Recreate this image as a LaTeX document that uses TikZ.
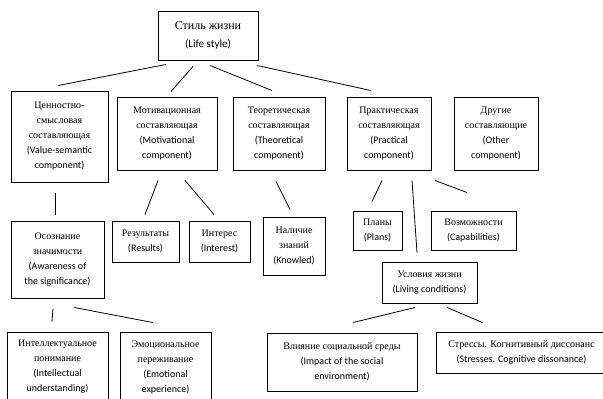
\documentclass[tikz,border=0pt]{standalone}
\usepackage{fontspec}
\setmainfont{Liberation Serif}
\newfontfamily\enfont{Carlito}
\newcommand\E[1]{{\enfont #1}}
\begin{document}
\begin{tikzpicture}[x=1pt,y=-1pt,
  box/.style={draw, line width=0.9pt, align=center, inner sep=0pt,
    font=\fontsize{10}{15}\selectfont},
  link/.style={line width=0.8pt}]
\useasboundingbox (0,0) rectangle (603,399);
\node[box, minimum width=100pt, minimum height=49pt, font=\fontsize{12}{18}\selectfont] (top) at (208,35.5)
  {Стиль жизни\\{\enfont\fontsize{11}{18}\selectfont (Life style)}};
\node[box, minimum width=97pt, minimum height=91pt] (val) at (59.5,136.5)
  {Ценностно-\\смысловая\\составляющая\\\E{(Value-semantic}\\\E{component)}};
\node[box, minimum width=100pt, minimum height=73pt] (mot) at (167,133.5)
  {Мотивационная\\составляющая\\\E{(Motivational}\\\E{component)}};
\node[box, minimum width=92pt, minimum height=73pt] (theo) at (279,133.5)
  {Теоретическая\\составляющая\\\E{(Theoretical}\\\E{component)}};
\node[box, minimum width=84pt, minimum height=73pt] (prac) at (389,133.5)
  {Практическая\\составляющая\\\E{(Practical}\\\E{component)}};
\node[box, minimum width=84pt, minimum height=73pt] (oth) at (496,133.5)
  {Другие\\составляющие\\\E{(Other}\\\E{component)}};
\node[box, minimum width=93pt, minimum height=77pt] (aware) at (57.5,259.5)
  {Осознание\\значимости\\\E{(Awareness of}\\\E{the significance)}};
\node[box, minimum width=67pt, minimum height=41pt] (res) at (145.5,241.5)
  {Результаты\\\E{(Results)}};
\node[box, minimum width=61pt, minimum height=41pt] (int) at (219.5,241.5)
  {Интерес\\\E{(Interest)}};
\node[box, minimum width=62pt, minimum height=58pt] (know) at (294,246)
  {Наличие\\знаний\\\E{(Knowled)}};
\node[box, minimum width=49pt, minimum height=39pt] (plans) at (377.5,230.5)
  {Планы\\\E{(Plans)}};
\node[box, minimum width=85pt, minimum height=39pt] (cap) at (473.5,230.5)
  {Возможности\\\E{(Capabilities)}};
\node[box, minimum width=95pt, minimum height=41pt] (liv) at (429.5,282.5)
  {Условия жизни\\\E{(Living conditions)}};
\node[box, minimum width=101pt, minimum height=70pt] (intel) at (57.5,367)
  {Интеллектуальное\\понимание\\\E{(Intellectual}\\\E{understanding)}};
\node[box, minimum width=91pt, minimum height=70pt] (emo) at (165.5,367)
  {Эмоциональное\\переживание\\\E{(Emotional}\\\E{experience)}};
\node[box, minimum width=150pt, minimum height=58pt] (soc) at (342,362)
  {Влияние социальной среды\\\E{(Impact of the social}\\\E{environment)}};
\node[box, minimum width=180pt, minimum height=41pt] (str) at (526,352.5)
  {\hspace*{-9pt}Стрессы. Когнитивный диссонанс\\\hspace*{-9pt}\E{(Stresses. Cognitive dissonance)}};
\draw[link] ([shift={(-42,4)}]top.south) -- ([shift={(-1.5,-5)}]val.north);
\draw[link] ([shift={(-15,6)}]top.south) -- ([shift={(4,-5)}]mot.north);
\draw[link] ([shift={(2,5)}]top.south) -- ([shift={(-7,-6)}]theo.north);
\draw[link] ([shift={(49,5)}]top.south) -- ([shift={(-18,-6)}]prac.north);
\draw[link] ([shift={(-4.5,11)}]val.south) -- ([shift={(-2.5,-6)}]aware.north);
\draw[link] ([shift={(-9,10)}]mot.south) -- ([shift={(-0.5,-6)}]res.north);
\draw[link] ([shift={(18,10)}]mot.south) -- ([shift={(-5.5,-6)}]int.north);
\draw[link] ([shift={(-3,11)}]theo.south) -- ([shift={(-4,-7)}]know.north);
\draw[link] ([shift={(-7,10)}]prac.south) -- ([shift={(-5.5,-9)}]plans.north);
\draw[link] ([shift={(23,10)}]prac.south) -- ([shift={(-12.5,-9)}]liv.north);
\draw[link] ([shift={(46,10)}]prac.south) -- ([shift={(-6.5,-18)}]cap.north);
\draw[link] ([shift={(-4.5,10)}]aware.south) -- ([shift={(-5.5,-10)}]intel.north);
\draw[link] ([shift={(16.5,9)}]aware.south) -- ([shift={(-12.5,-9)}]emo.north);
\draw[link] ([shift={(-14.5,4)}]liv.south) -- ([shift={(11,-10)}]soc.north);
\draw[link] ([shift={(17.5,4)}]liv.south) -- ([shift={(-43.5,-9)}]str.north);
\end{tikzpicture}
\end{document}
